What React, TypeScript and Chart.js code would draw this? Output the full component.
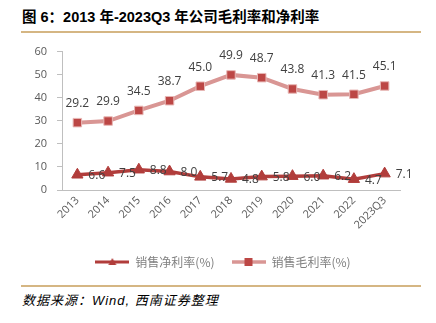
import React, { useEffect, useRef } from "react";
import { Chart, registerables } from "chart.js";

Chart.register(...registerables);

const categories = ["2013", "2014", "2015", "2016", "2017", "2018", "2019", "2020", "2021", "2022", "2023Q3"];
const netMargin = [6.6, 7.5, 8.8, 8.0, 5.7, 4.8, 5.8, 6.0, 6.2, 4.7, 7.1];
const grossMargin = [29.2, 29.9, 34.5, 38.7, 45.0, 49.9, 48.7, 43.8, 41.3, 41.5, 45.1];
const yTicks = [0, 10, 20, 30, 40, 50, 60];
const seriesNames = ["销售净利率(%)", "销售毛利率(%)"];

const NET_COLOR = "#B13D3B";
const GROSS_LINE = "#D99694";
const GROSS_MARK = "#BC4745";

function legendIcon(kind: "tri" | "sq"): HTMLCanvasElement {
  const c = document.createElement("canvas");
  c.width = 34;
  c.height = 12;
  const ctx = c.getContext("2d")!;
  ctx.strokeStyle = kind === "tri" ? NET_COLOR : GROSS_LINE;
  ctx.lineWidth = kind === "tri" ? 3 : 3.5;
  ctx.beginPath();
  ctx.moveTo(0, 6);
  ctx.lineTo(34, 6);
  ctx.stroke();
  if (kind === "tri") {
    ctx.fillStyle = NET_COLOR;
    ctx.beginPath();
    ctx.moveTo(17, 2);
    ctx.lineTo(21, 9);
    ctx.lineTo(13, 9);
    ctx.closePath();
    ctx.fill();
  } else {
    ctx.fillStyle = GROSS_MARK;
    ctx.fillRect(13, 2, 8, 8);
  }
  return c;
}

const labelPlugin = {
  id: "valueLabels",
  afterLayout(chart: any) {
    const lg = chart.legend;
    if (lg) {
      lg.left += 23;
      lg.right += 23;
    }
  },
  afterDatasetsDraw(chart: any) {
    const ctx = chart.ctx;
    ctx.save();
    ctx.font = "12px 'Open Sans', 'Liberation Sans', sans-serif";
    ctx.fillStyle = "#404040";
    ctx.textBaseline = "middle";
    chart.data.datasets.forEach((ds: any, i: number) => {
      const meta = chart.getDatasetMeta(i);
      meta.data.forEach((pt: any, j: number) => {
        const v = (ds.data[j] as number).toFixed(1);
        if (i === 0) {
          ctx.textAlign = "left";
          ctx.fillText(v, pt.x + 11, pt.y + 1);
        } else {
          ctx.textAlign = "center";
          ctx.fillText(v, pt.x, pt.y - 19);
        }
      });
    });
    ctx.restore();
  },
};

export default function App() {
  const ref = useRef<HTMLCanvasElement | null>(null);
  useEffect(() => {
    if (!ref.current) return;
    const chart = new Chart(ref.current, {
      type: "line",
      data: {
        labels: categories,
        datasets: [
          {
            label: seriesNames[0],
            data: netMargin,
            borderColor: NET_COLOR,
            backgroundColor: NET_COLOR,
            borderWidth: 3.5,
            pointStyle: "triangle",
            pointRadius: 6.5,
            pointBorderWidth: 1,
            pointBorderColor: NET_COLOR,
            pointBackgroundColor: NET_COLOR,
            tension: 0,
            order: 1,
          },
          {
            label: seriesNames[1],
            data: grossMargin,
            borderColor: GROSS_LINE,
            backgroundColor: GROSS_MARK,
            borderWidth: 4,
            pointStyle: "rect",
            pointRadius: 6,
            pointBorderWidth: 1,
            pointBorderColor: "#E8B8B6",
            pointBackgroundColor: GROSS_MARK,
            tension: 0,
            order: 2,
          },
        ],
      },
      options: {
        animation: false,
        responsive: false,
        maintainAspectRatio: false,
        layout: { padding: { left: 0, right: 36, top: 15, bottom: 0 } },
        plugins: {
          tooltip: { enabled: false },
          legend: {
            position: "bottom",
            labels: {
              usePointStyle: true,
              pointStyleWidth: 34,
              padding: 17,
              color: "#7F7F7F",
              font: { size: 12, family: "'Noto Sans CJK SC', sans-serif" },
              generateLabels: (ch: any) =>
                ch.data.datasets.map((ds: any, i: number) => ({
                  text: ds.label,
                  pointStyle: legendIcon(i === 0 ? "tri" : "sq"),
                  fillStyle: "transparent",
                  strokeStyle: "transparent",
                  lineWidth: 0,
                  fontColor: "#7F7F7F",
                  datasetIndex: i,
                  hidden: false,
                })),
            },
          },
        },
        scales: {
          x: {
            offset: true,
            grid: { display: false, drawTicks: false },
            border: { display: true, color: "#BFBFBF", width: 1 },
            ticks: {
              color: "#595959",
              font: { size: 11, family: "'Open Sans', 'Liberation Sans', sans-serif" },
              maxRotation: 45,
              minRotation: 45,
              padding: 4,
              autoSkip: false,
            },
            afterFit: (s: any) => {
              s.height = 49;
            },
          },
          y: {
            min: 0,
            max: 60,
            afterBuildTicks: (s: any) => {
              s.ticks = yTicks.map((v) => ({ value: v }));
            },
            grid: { display: true, drawOnChartArea: false, drawTicks: true, tickLength: 5, color: "#BFBFBF" },
            border: { display: true, color: "#BFBFBF", width: 1 },
            ticks: {
              color: "#595959",
              font: { size: 11, family: "'Open Sans', 'Liberation Sans', sans-serif" },
              padding: 10,
            },
            afterFit: (s: any) => {
              s.width = 62;
            },
          },
        },
      },
      plugins: [labelPlugin],
    });
    return () => chart.destroy();
  }, []);

  return (
    <div style={{ position: "fixed", left: 0, top: 0, width: 436, height: 323, background: "#fff", overflow: "hidden" }}>
      <div
        style={{
          position: "absolute",
          left: 22,
          top: 7,
          fontFamily: "'Liberation Sans', 'Noto Sans CJK SC', sans-serif",
          fontWeight: "bold",
          fontSize: 14.5,
          lineHeight: "20px",
          color: "#000",
          whiteSpace: "nowrap",
        }}
      >
        图 6：2013 年-2023Q3 年公司毛利率和净利率
      </div>
      <canvas ref={ref} width={436} height={243} style={{ position: "absolute", left: 0, top: 35, width: 436, height: 243 }} />
      <div style={{ position: "absolute", left: 21, top: 31, width: 400, height: 2, background: "#D5B683" }} />
      <div style={{ position: "absolute", left: 21, top: 285, width: 400, height: 2, background: "#D5B683" }} />
      <div
        style={{
          position: "absolute",
          left: 22,
          top: 292,
          fontFamily: "'Liberation Sans', 'Noto Sans CJK SC', sans-serif",
          fontStyle: "italic",
          fontSize: 13,
          letterSpacing: 1,
          lineHeight: "18px",
          color: "#000",
          whiteSpace: "nowrap",
        }}
      >
        数据来源：Wind, 西南证券整理
      </div>
    </div>
  );
}
